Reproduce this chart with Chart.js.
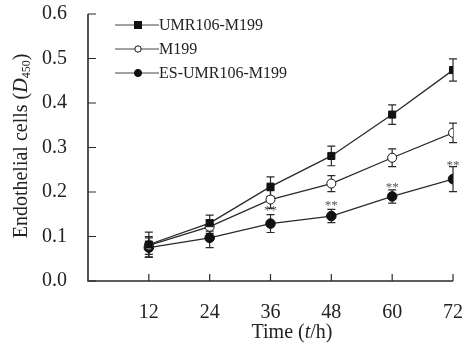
<!DOCTYPE html>
<html>
<head>
<meta charset="utf-8">
<script src="https://cdn.jsdelivr.net/npm/chart.js@4/dist/chart.umd.min.js"></script>
<style>
  html, body { margin: 0; padding: 0; background: #fff; }
  #wrap { width: 472px; height: 349px; }
</style>
</head>
<body>
<div id="wrap"><canvas id="chart" width="472" height="349"></canvas></div>
<script>
const hours = [12, 24, 36, 48, 60, 72];
const umr = [0.082, 0.130, 0.212, 0.281, 0.374, 0.474];
const umrErr = [0.028, 0.018, 0.022, 0.022, 0.022, 0.025];
const m199 = [0.080, 0.122, 0.183, 0.219, 0.277, 0.333];
const m199Err = [0.020, 0.015, 0.020, 0.018, 0.020, 0.022];
const es = [0.075, 0.097, 0.129, 0.146, 0.190, 0.229];
const esErr = [0.022, 0.022, 0.020, 0.015, 0.015, 0.028];
const seriesNames = ['UMR106-M199', 'M199', 'ES-UMR106-M199'];
const starHours = [36, 48, 60, 72];
const starY = [0.165, 0.177, 0.217, 0.267];
const yTicks = [0.0, 0.1, 0.2, 0.3, 0.4, 0.5, 0.6];

const ink = '#2a2a2a';
const serif = '"Liberation Serif", "DejaVu Serif", serif';

function pts(ys) { return hours.map((h, i) => ({ x: h, y: ys[i] })); }

const styles = [
  { pointStyle: 'rect', radius: 5, fill: '#111' },
  { pointStyle: 'circle', radius: 4.5, fill: '#fff' },
  { pointStyle: 'circle', radius: 4.8, fill: '#111' }
];
const errs = [umrErr, m199Err, esErr];

// error bars, inward ticks, stars, legend and axis titles
const extras = {
  id: 'extras',
  beforeDatasetsDraw(chart) {
    const ctx = chart.ctx, x = chart.scales.x, y = chart.scales.y;
    ctx.save();
    ctx.strokeStyle = ink;
    ctx.lineWidth = 1.2;
    chart.data.datasets.forEach((ds, k) => {
      ds.data.forEach((p, i) => {
        const px = x.getPixelForValue(p.x);
        const top = y.getPixelForValue(p.y + errs[k][i]);
        const bot = y.getPixelForValue(p.y - errs[k][i]);
        ctx.beginPath();
        ctx.moveTo(px, top); ctx.lineTo(px, bot);
        ctx.moveTo(px - 4, top); ctx.lineTo(px + 4, top);
        ctx.moveTo(px - 4, bot); ctx.lineTo(px + 4, bot);
        ctx.stroke();
      });
    });
    ctx.restore();
  },
  afterDraw(chart) {
    const ctx = chart.ctx, x = chart.scales.x, y = chart.scales.y;
    const area = chart.chartArea;
    ctx.save();
    // axes
    ctx.strokeStyle = ink;
    ctx.lineWidth = 1.6;
    ctx.beginPath();
    ctx.moveTo(area.left, y.getPixelForValue(0.6));
    ctx.lineTo(area.left, area.bottom);
    ctx.lineTo(area.right, area.bottom);
    ctx.stroke();
    ctx.lineWidth = 1.2;
    ctx.beginPath();
    yTicks.forEach(v => {
      const py = y.getPixelForValue(v);
      ctx.moveTo(area.left, py); ctx.lineTo(area.left + 8, py);
    });
    hours.forEach(h => {
      const px = x.getPixelForValue(h);
      ctx.moveTo(px, area.bottom); ctx.lineTo(px, area.bottom - 7);
    });
    ctx.stroke();

    // stars
    ctx.fillStyle = '#555';
    ctx.font = '13px ' + serif;
    ctx.textAlign = 'center';
    ctx.textBaseline = 'middle';
    starHours.forEach((h, i) => {
      ctx.fillText('**', x.getPixelForValue(h), y.getPixelForValue(starY[i]) + 3);
    });

    // legend
    ctx.font = '16px ' + serif;
    ctx.textAlign = 'left';
    seriesNames.forEach((name, k) => {
      const ly = 25 + k * 24;
      ctx.strokeStyle = '#444';
      ctx.lineWidth = 1;
      ctx.beginPath();
      ctx.moveTo(115, ly); ctx.lineTo(159, ly);
      ctx.stroke();
      const s = styles[k];
      ctx.fillStyle = s.fill;
      ctx.strokeStyle = '#111';
      if (s.pointStyle === 'rect') {
        ctx.fillRect(134, ly - 4, 8, 8);
      } else {
        ctx.beginPath();
        ctx.arc(138, ly, k === 1 ? 3.2 : 3.6, 0, Math.PI * 2);
        ctx.fill();
        ctx.stroke();
      }
      ctx.fillStyle = '#222';
      ctx.fillText(name, 159, ly + 1);
    });

    // x title: Time (t/h)
    ctx.fillStyle = '#222';
    const parts = [['Time (', ''], ['t', 'italic '], ['/h)', '']];
    let w = 0;
    parts.forEach(p => { ctx.font = p[1] + '20px ' + serif; w += ctx.measureText(p[0]).width; });
    let cx = 292 - w / 2;
    parts.forEach(p => {
      ctx.font = p[1] + '20px ' + serif;
      ctx.fillText(p[0], cx, 333);
      cx += ctx.measureText(p[0]).width;
    });

    // y title: Endothelial cells (D450)
    ctx.translate(22, 146);
    ctx.rotate(-Math.PI / 2);
    const yparts = [['Endothelial cells (', '', 20, 0], ['D', 'italic ', 20, 0], ['450', '', 12, 5], [')', '', 20, 0]];
    w = 0;
    yparts.forEach(p => { ctx.font = p[1] + p[2] + 'px ' + serif; w += ctx.measureText(p[0]).width; });
    cx = -w / 2;
    yparts.forEach(p => {
      ctx.font = p[1] + p[2] + 'px ' + serif;
      ctx.fillText(p[0], cx, p[3]);
      cx += ctx.measureText(p[0]).width;
    });
    ctx.restore();
  }
};

const datasets = [umr, m199, es].map((vals, k) => ({
  label: seriesNames[k],
  data: pts(vals),
  borderColor: ink,
  borderWidth: 1.3,
  pointStyle: styles[k].pointStyle,
  pointRadius: styles[k].radius,
  pointBackgroundColor: styles[k].fill,
  pointBorderColor: '#111',
  pointBorderWidth: 1,
  tension: 0
}));

new Chart(document.getElementById('chart'), {
  type: 'line',
  data: { datasets },
  options: {
    responsive: false,
    animation: false,
    layout: { padding: { top: 14, right: 19, left: 0, bottom: 0 } },
    plugins: { legend: { display: false }, tooltip: { enabled: false } },
    scales: {
      x: {
        type: 'linear',
        min: 0,
        max: 72,
        afterFit(s) { s.height = 68; s.paddingLeft = 0; s.paddingRight = 0; },
        afterBuildTicks(s) { s.ticks = hours.map(h => ({ value: h })); },
        border: { display: false },
        grid: { display: false },
        ticks: {
          color: '#222',
          padding: 12,
          font: { family: serif, size: 20 }
        }
      },
      y: {
        min: 0,
        max: 0.6,
        afterFit(s) { s.width = 88; s.paddingTop = 0; s.paddingBottom = 0; },
        afterBuildTicks(s) { s.ticks = yTicks.map(v => ({ value: v })); },
        border: { display: false },
        grid: { display: false },
        ticks: {
          color: '#222',
          padding: 13,
          font: { family: serif, size: 20 },
          callback: v => v.toFixed(1)
        }
      }
    }
  },
  plugins: [extras]
});
</script>
</body>
</html>
